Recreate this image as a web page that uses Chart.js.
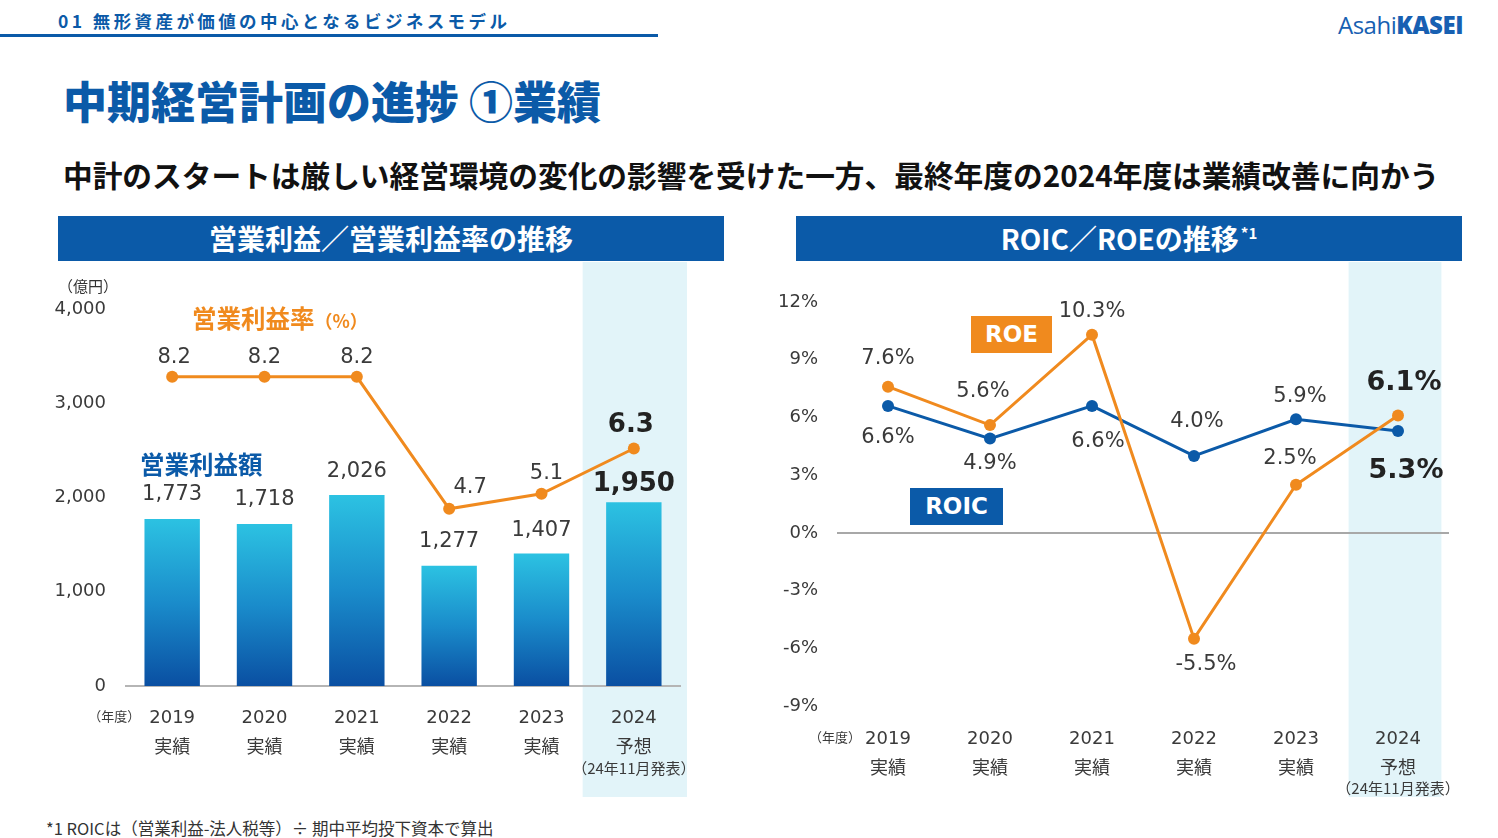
<!DOCTYPE html>
<html lang="ja">
<head>
<meta charset="utf-8">
<script src="https://cdn.jsdelivr.net/npm/chart.js@4.4.0/dist/chart.umd.min.js"></script>
<style>
  html, body { margin: 0; padding: 0; background: #fff; }
  body { width: 1498px; height: 838px; position: relative; overflow: hidden;
         font-family: "Noto Sans CJK JP", "Noto Sans", sans-serif; }
  .abs { position: absolute; white-space: nowrap; }
  #sect { left: 58px; top: 8px; font-size: 17.5px; font-weight: bold; color: #0b5aa8; letter-spacing: 3.4px; }
  #rule { left: 0; top: 34px; width: 658px; height: 3px; background: #0b5aa8; }
  #logo { right: 35px; top: 8px; font-family: "Open Sans", "DejaVu Sans", sans-serif; font-size: 24px; color: #1760b2; letter-spacing: -0.5px; }
  #logo b { font-weight: 800; }
  #title { left: 63px; top: 68px; font-size: 44px; font-weight: 900; color: #0b5aa8; }
  #sub { left: 63px; top: 153px; font-size: 29.7px; font-weight: bold; color: #111; }
  .hdr { top: 216px; width: 666px; height: 45px; background: #0b5aa8; color: #fff; font-size: 28px;
         font-weight: bold; text-align: center; line-height: 45px; }
  .hdr sup { font-size: 15px; position: relative; top: -11px; vertical-align: baseline; margin-left: 2px; line-height: 0; }
  #foot { left: 46px; top: 816px; font-size: 16.5px; color: #333; }
  canvas { position: absolute; }
  .tag { color: #fff; font-family: "DejaVu Sans", sans-serif; font-weight: bold; font-size: 23px;
         text-align: center; line-height: 37px; height: 37px; }
  .leg { font-weight: bold; font-size: 24.5px; }
</style>
</head>
<body>
<div class="abs" id="sect">01 無形資産が価値の中心となるビジネスモデル</div>
<div class="abs" id="rule"></div>
<div class="abs" id="logo">Asahi<b>KASEI</b></div>
<div class="abs" id="title">中期経営計画の進捗 ①業績</div>
<div class="abs" id="sub">中計のスタートは厳しい経営環境の変化の影響を受けた一方、最終年度の2024年度は業績改善に向かう</div>
<div class="abs hdr" style="left:58px">営業利益／営業利益率の推移</div>
<div class="abs hdr" style="left:796px">ROIC／ROEの推移<sup>*1</sup></div>

<canvas id="left" width="660" height="538" style="left:40px; top:262px"></canvas>
<canvas id="right" width="710" height="538" style="left:760px; top:262px"></canvas>

<div class="abs" style="left:58px; top:275px; font-size:15px; color:#333">（億円）</div>
<div class="abs leg" style="left:192px; top:300px; color:#f08a1e">営業利益率<span style="font-size:18px">（%）</span></div>
<div class="abs leg" style="left:140px; top:446px; color:#0b5aa8">営業利益額</div>
<div class="abs tag" style="left:971px; top:316px; width:81px; background:#f08a1e">ROE</div>
<div class="abs tag" style="left:910px; top:488px; width:93px; background:#0b5aa8">ROIC</div>

<div class="abs" id="foot">*1 ROICは（営業利益-法人税等）÷ 期中平均投下資本で算出</div>

<script>
const years = ['2019', '2020', '2021', '2022', '2023', '2024'];
const status = ['実績', '実績', '実績', '実績', '実績', '予想'];
const forecastNote = '（24年11月発表）';

// 営業利益（億円）と営業利益率（%）
const opProfit = [1773, 1718, 2026, 1277, 1407, 1950];
const opMargin = [8.2, 8.2, 8.2, 4.7, 5.1, 6.3];
const profitTicks = [0, 1000, 2000, 3000, 4000];

// ROIC / ROE（%）
const roe = [7.6, 5.6, 10.3, -5.5, 2.5, 6.1];
const roic = [6.6, 4.9, 6.6, 4.0, 5.9, 5.3];
const pctTicks = [-9, -6, -3, 0, 3, 6, 9, 12];

// label offsets from the mark, px
const profitLabelPos = [[0, -24], [0, -25], [0, -24], [0, -24], [0, -23], [0, -18]];
const marginLabelPos = [[2, -19], [0, -19], [0, -19], [21, -21], [5, -20], [-3, -23]];
const roeLabelPos = [[0, -28], [-7, -34], [0, -23], [12, 26], [-6, -26], [6, -33]];
const roicLabelPos = [[0, 32], [0, 25], [6, 36], [3, -34], [4, -23], [8, 40]];

const ORANGE = '#f08a1e';
const BLUE = '#0b5aa8';
const TEXT = '#3a3a3a';
const NUM_FONT = '"DejaVu Sans", "Noto Sans CJK JP", sans-serif';

Chart.defaults.font.family = NUM_FONT;
Chart.defaults.color = TEXT;
Chart.defaults.animation = false;

const valueLabels = {
  id: 'valueLabels',
  afterDatasetsDraw(chart) {
    const ctx = chart.ctx;
    chart.data.datasets.forEach((ds, di) => {
      if (!ds.labelPos) return;
      const meta = chart.getDatasetMeta(di);
      meta.data.forEach((el, i) => {
        const last = i === ds.data.length - 1;
        ctx.save();
        ctx.font = (last ? 'bold ' + ds.boldSize : ds.labelSize) + 'px ' + NUM_FONT;
        ctx.fillStyle = last ? '#222' : TEXT;
        ctx.textAlign = 'center';
        ctx.textBaseline = 'middle';
        ctx.fillText(ds.fmt(ds.data[i]), el.x + ds.labelPos[i][0], el.y + ds.labelPos[i][1]);
        ctx.restore();
      });
    });
  }
};

// highlight band behind the forecast year + extra axis texts
const forecastBand = {
  id: 'forecastBand',
  beforeDraw(chart, args, opts) {
    const { ctx, scales: { x } } = chart;
    const cx = x.getPixelForValue(years.length - 1);
    const w = (x.width / years.length) * opts.widthRatio;
    ctx.save();
    ctx.fillStyle = '#e2f4f9';
    ctx.fillRect(cx - w / 2 + opts.shift, 0, w, chart.height - 3);
    ctx.restore();
  },
  afterDraw(chart, args, opts) {
    const { ctx, scales: { x } } = chart;
    ctx.save();
    ctx.fillStyle = TEXT;
    ctx.textAlign = 'center';
    ctx.textBaseline = 'middle';
    ctx.font = '15px "Noto Sans CJK JP", sans-serif';
    ctx.fillText(forecastNote, x.getPixelForValue(years.length - 1), x.bottom - opts.noteUp);
    ctx.font = '13px "Noto Sans CJK JP", sans-serif';
    ctx.fillText('（年度）', x.getPixelForValue(0) - opts.unitLeft, x.top + opts.yearDown);
    ctx.restore();
  }
};

function xAxis(height, pad) {
  return {
    grid: { display: false },
    border: { display: false },
    ticks: {
      autoSkip: false, maxRotation: 0, padding: pad, color: TEXT,
      font: { size: 18, lineHeight: 30 / 18 },
      callback: (v, i) => [years[i], status[i]]
    },
    afterFit: s => { s.height = height; }
  };
}

function barGradient(c) {
  const { ctx, chartArea, scales } = c.chart;
  if (!chartArea || c.raw == null) return '#29bde0';
  const top = scales.y.getPixelForValue(c.raw);
  const bot = scales.y.getPixelForValue(0);
  const g = ctx.createLinearGradient(0, top, 0, bot);
  g.addColorStop(0, '#2cc2e2');
  g.addColorStop(0.5, '#1a8ccb');
  g.addColorStop(1, '#0a4fa2');
  return g;
}

new Chart(document.getElementById('left'), {
  type: 'bar',
  data: {
    labels: years,
    datasets: [
      {
        type: 'line', label: '営業利益率', data: opMargin, yAxisID: 'y1', order: 0,
        borderColor: ORANGE, backgroundColor: ORANGE, borderWidth: 3,
        pointRadius: 6, pointBackgroundColor: ORANGE, pointBorderWidth: 0, tension: 0,
        labelPos: marginLabelPos, labelSize: 21, boldSize: 26, fmt: v => v.toFixed(1)
      },
      {
        label: '営業利益額', data: opProfit, yAxisID: 'y', order: 1,
        backgroundColor: barGradient, borderWidth: 0,
        barPercentage: 0.6, categoryPercentage: 1,
        labelPos: profitLabelPos, labelSize: 21, boldSize: 26, fmt: v => v.toLocaleString('en-US')
      }
    ]
  },
  options: {
    responsive: false,
    layout: { padding: { top: 47, right: 20, left: 0, bottom: 0 } },
    plugins: {
      legend: { display: false }, tooltip: { enabled: false },
      forecastBand: { widthRatio: 1.13, shift: 1, noteUp: 32, yearDown: 30, unitLeft: 58 }
    },
    scales: {
      x: Object.assign(xAxis(114, 9), { border: { display: true, color: '#b5b5b5', width: 2 } }),
      y: {
        min: 0, max: 4000,
        afterBuildTicks: s => { s.ticks = profitTicks.map(v => ({ value: v })); },
        grid: { display: false, drawTicks: false }, border: { display: false },
        ticks: { padding: 20, color: TEXT, font: { size: 18 }, callback: v => v.toLocaleString('en-US') },
        afterFit: s => { s.width = 86; }
      },
      y1: { display: false, min: 0, max: 10 }
    }
  },
  plugins: [forecastBand, valueLabels]
});

new Chart(document.getElementById('right'), {
  type: 'line',
  data: {
    labels: years,
    datasets: [
      {
        label: 'ROE', data: roe, order: 0,
        borderColor: ORANGE, backgroundColor: ORANGE, borderWidth: 3,
        pointRadius: 6, pointBorderWidth: 0, tension: 0,
        labelPos: roeLabelPos, labelSize: 21, boldSize: 27, fmt: v => v.toFixed(1) + '%'
      },
      {
        label: 'ROIC', data: roic, order: 1,
        borderColor: BLUE, backgroundColor: BLUE, borderWidth: 3,
        pointRadius: 6, pointBorderWidth: 0, tension: 0,
        labelPos: roicLabelPos, labelSize: 21, boldSize: 27, fmt: v => v.toFixed(1) + '%'
      }
    ]
  },
  options: {
    responsive: false,
    layout: { padding: { top: 40, right: 21, left: 0, bottom: 0 } },
    plugins: {
      legend: { display: false }, tooltip: { enabled: false },
      forecastBand: { widthRatio: 0.91, shift: -3, noteUp: 12, yearDown: 31, unitLeft: 53 }
    },
    scales: {
      x: Object.assign(xAxis(94, 10), { offset: true }),
      y: {
        min: -9, max: 12,
        afterBuildTicks: s => { s.ticks = pctTicks.map(v => ({ value: v })); },
        grid: {
          drawTicks: false, lineWidth: 2,
          color: c => (c.tick && c.tick.value === 0 ? '#a8a8a8' : 'rgba(0,0,0,0)')
        },
        border: { display: false },
        ticks: { padding: 19, color: TEXT, font: { size: 18 }, callback: v => v + '%' },
        afterFit: s => { s.width = 77; }
      }
    }
  },
  plugins: [forecastBand, valueLabels]
});
</script>
</body>
</html>
